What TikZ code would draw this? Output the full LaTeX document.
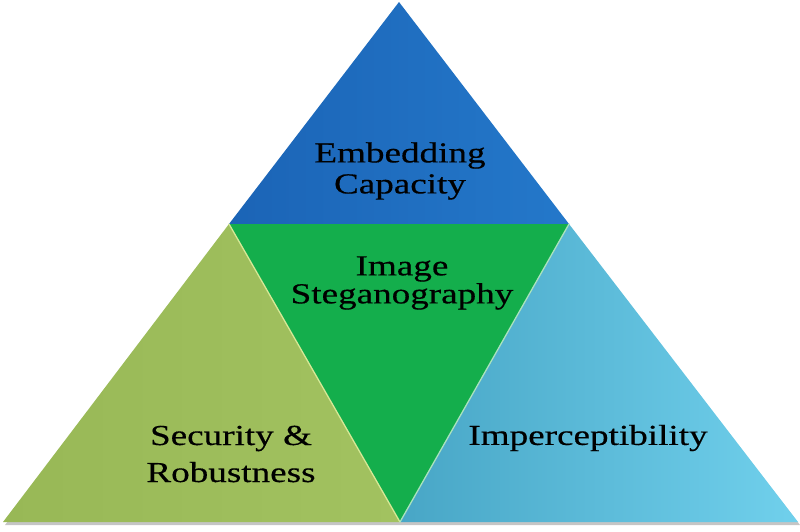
\documentclass[tikz,border=0pt]{standalone}
\usepackage{fontspec}
\newfontfamily\labelfont[FakeStretch=1.28,FakeBold=0.4]{Liberation Serif}
\usetikzlibrary{positioning}
\definecolor{capblueL}{RGB}{27,100,182}
\definecolor{capblueR}{RGB}{36,120,202}
\definecolor{steggreen}{RGB}{20,174,76}
\definecolor{secgreenL}{RGB}{152,184,86}
\definecolor{secgreenR}{RGB}{162,194,96}
\definecolor{impblueL}{RGB}{72,166,198}
\definecolor{impblueR}{RGB}{112,208,236}
\tikzset{
 lbl/.style={font=\labelfont\fontsize{29}{31}\selectfont, align=center, text=black, inner sep=0pt},
 seam/.style={line width=1.3pt, line cap=round}
}
\begin{document}
\begin{tikzpicture}[x=1pt,y=1pt]
\useasboundingbox (0,0) rectangle (800,531);

\path (399,529) coordinate[name=apex];
\path (3,9) coordinate[name=bl];
\path (798,9) coordinate[name=br];
\path (229,307) coordinate[name=ml];
\path (569,307) coordinate[name=mr];
\path (400,9) coordinate[name=mb];

% shadow
\fill[black!45,opacity=.5] ([shift={(2,-3)}]bl) -- ([shift={(2,-3)}]br) -- ([shift={(0,-3)}]mr) -- ([shift={(0,-3)}]ml) -- cycle;

\shade[left color=capblueL,right color=capblueR] (apex) -- (mr) -- (ml) -- cycle;
\fill[steggreen] (ml) -- (mr) -- (mb) -- cycle;
\shade[left color=secgreenL,right color=secgreenR] (bl) -- (ml) -- (mb) -- cycle;
\shade[left color=impblueL,right color=impblueR] (mb) -- (mr) -- (br) -- cycle;

\draw[seam,draw={rgb,255:red,214;green,232;blue,150}] (ml) -- (mb);
\draw[seam,draw={rgb,255:red,170;green,226;blue,190}] (mr) -- (mb);

\path (400,360) node[lbl,name=capacity] {Embedding\\Capacity};
\path (402,248) node[lbl,name=stego] {Image\\[-3pt]Steganography};
\path (231,77) node[lbl,name=security] {Security \&\\[6pt]Robustness};
\path (588,93) node[lbl,name=impercept] {Imperceptibility};

\end{tikzpicture}
\end{document}
